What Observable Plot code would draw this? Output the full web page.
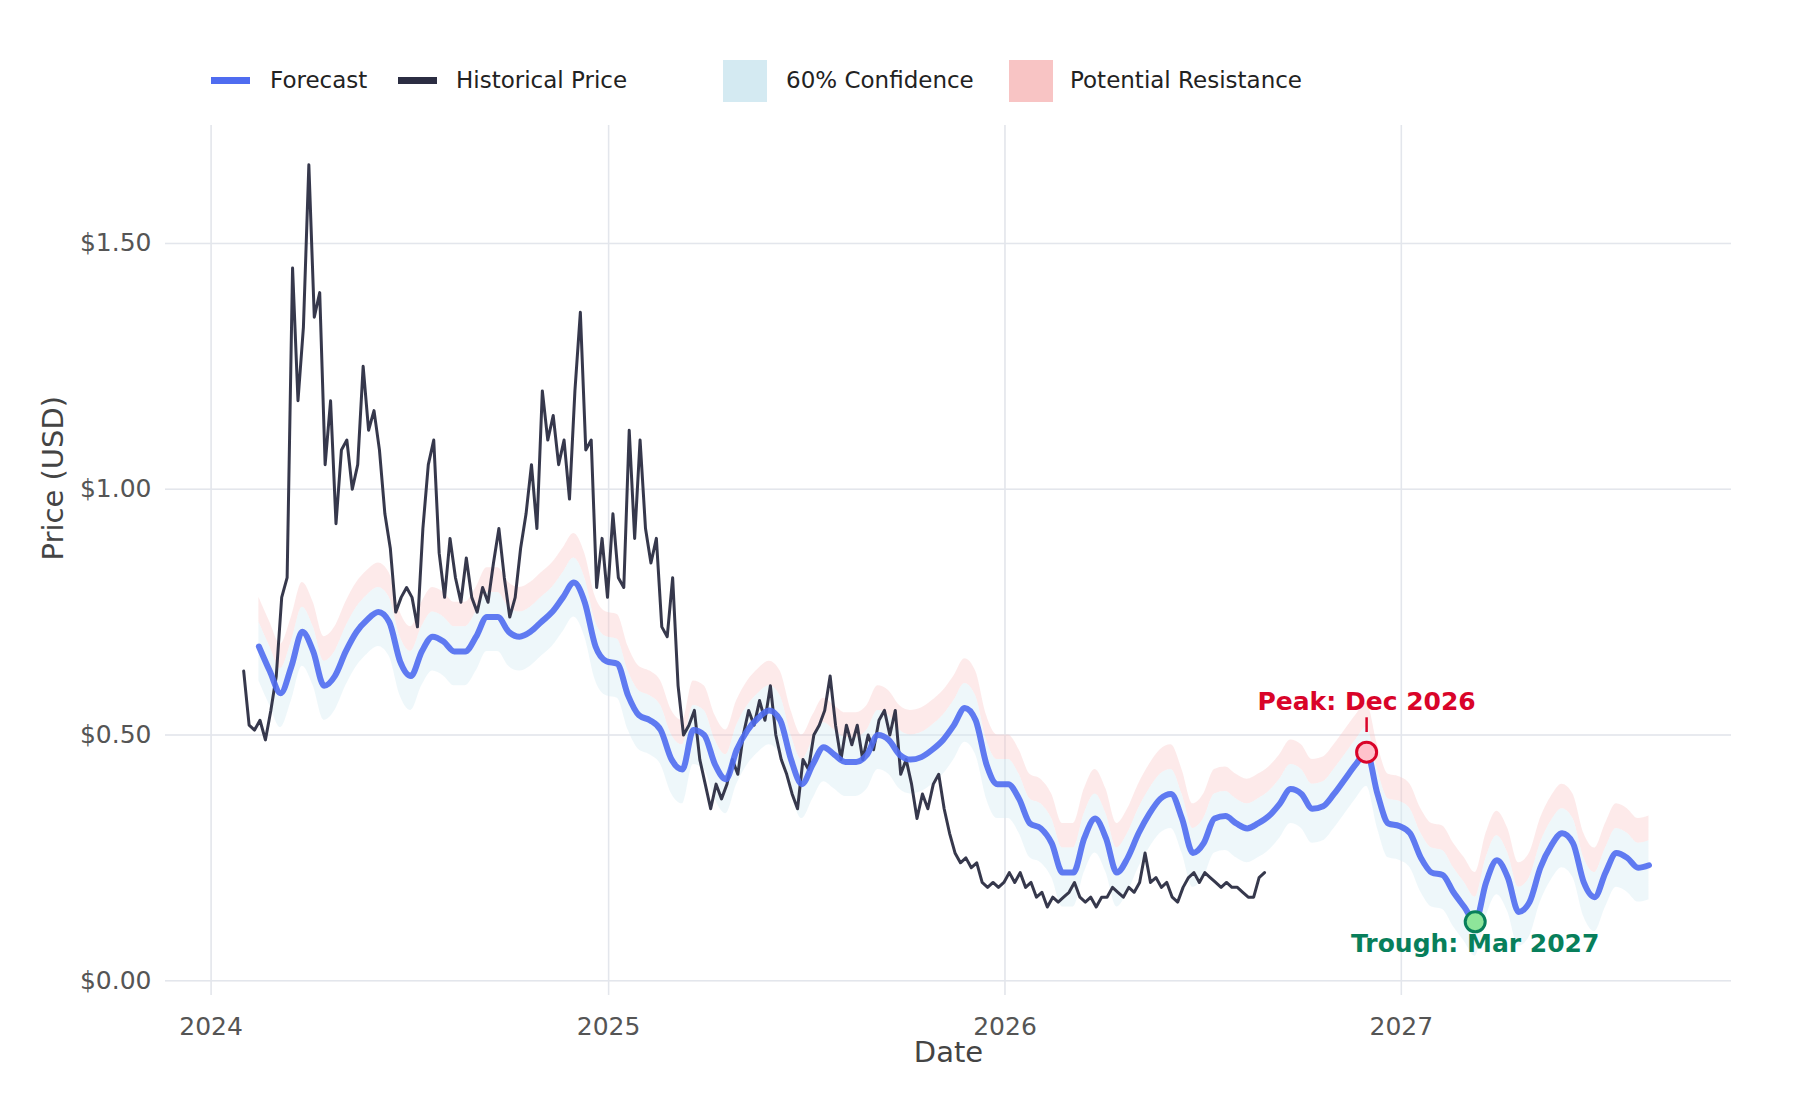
<!DOCTYPE html>
<html><head><meta charset="utf-8">
<script src="https://cdn.jsdelivr.net/npm/d3@7"></script>
<script src="https://cdn.jsdelivr.net/npm/@observablehq/plot@0.6"></script>
<style>
body{margin:0;background:#fff;font-family:"DejaVu Sans",sans-serif;}
#wrap{position:relative;width:1800px;height:1100px;}
.leg{position:absolute;font-size:23px;color:#222;}
.sw{position:absolute;}
</style></head><body>
<div id="wrap">
  <div class="sw" style="left:211px;top:77px;width:39px;height:7px;background:#4f6cf0"></div>
  <div class="leg" style="left:270px;top:67px">Forecast</div>
  <div class="sw" style="left:398px;top:77px;width:39px;height:7px;background:#2b2d42"></div>
  <div class="leg" style="left:456px;top:67px">Historical Price</div>
  <div class="sw" style="left:723px;top:60px;width:44px;height:42px;background:#d4eaf2"></div>
  <div class="leg" style="left:786px;top:67px">60% Confidence</div>
  <div class="sw" style="left:1009px;top:60px;width:44px;height:42px;background:#f8c4c4"></div>
  <div class="leg" style="left:1070px;top:67px">Potential Resistance</div>
  <div id="chart" style="position:absolute;left:0;top:0"></div>
</div>
<script>
const histStart = "2024-01-31", histStepDays = 5;
const histValues = [0.63,0.52,0.51,0.53,0.49,0.55,0.62,0.78,0.82,1.45,1.18,1.33,1.66,1.35,1.40,1.05,1.18,0.93,1.08,1.10,
1.00,1.05,1.25,1.12,1.16,1.08,0.95,0.88,0.75,0.78,0.80,0.78,0.72,0.92,1.05,1.10,0.87,0.78,0.90,0.82,
0.77,0.86,0.78,0.75,0.80,0.77,0.85,0.92,0.82,0.74,0.78,0.88,0.95,1.05,0.92,1.20,1.10,1.15,1.05,1.10,
0.98,1.20,1.36,1.08,1.10,0.80,0.90,0.78,0.95,0.82,0.80,1.12,0.90,1.10,0.92,0.85,0.90,0.72,0.70,0.82,
0.60,0.50,0.52,0.55,0.45,0.40,0.35,0.40,0.37,0.40,0.45,0.42,0.50,0.55,0.52,0.57,0.53,0.60,0.50,0.45,
0.42,0.38,0.35,0.45,0.43,0.50,0.52,0.55,0.62,0.52,0.45,0.52,0.48,0.52,0.45,0.50,0.47,0.53,0.55,0.50,
0.55,0.42,0.45,0.40,0.33,0.38,0.35,0.40,0.42,0.35,0.30,0.26,0.24,0.25,0.23,0.24,0.20,0.19,0.20,0.19,
0.20,0.22,0.20,0.22,0.19,0.20,0.17,0.18,0.15,0.17,0.16,0.17,0.18,0.20,0.17,0.16,0.17,0.15,0.17,0.17,
0.19,0.18,0.17,0.19,0.18,0.20,0.26,0.20,0.21,0.19,0.20,0.17,0.16,0.19,0.21,0.22,0.20,0.22,0.21,0.20,
0.19,0.20,0.19,0.19,0.18,0.17,0.17,0.21,0.22];
const fcStart = "2024-02-14", fcStepDays = 10;
const fcValues = [0.68,0.63,0.585,0.64,0.71,0.67,0.60,0.62,0.67,0.71,0.735,0.75,0.73,0.65,0.62,0.67,0.70,0.69,0.67,0.67,
0.70,0.74,0.74,0.71,0.70,0.71,0.73,0.75,0.78,0.81,0.77,0.68,0.65,0.645,0.58,0.54,0.53,0.51,0.45,0.43,
0.51,0.50,0.44,0.41,0.47,0.51,0.535,0.55,0.53,0.45,0.40,0.44,0.475,0.46,0.445,0.445,0.46,0.50,0.49,0.46,
0.45,0.455,0.47,0.49,0.52,0.555,0.53,0.44,0.40,0.40,0.37,0.32,0.31,0.28,0.22,0.22,0.29,0.33,0.29,0.22,
0.25,0.30,0.34,0.37,0.38,0.33,0.26,0.28,0.33,0.335,0.32,0.31,0.32,0.335,0.36,0.39,0.38,0.35,0.355,0.38,
0.41,0.44,0.465,0.38,0.32,0.315,0.30,0.25,0.22,0.215,0.18,0.15,0.12,0.20,0.245,0.21,0.14,0.16,0.23,0.275,
0.30,0.28,0.20,0.17,0.22,0.26,0.25,0.23,0.235];
const confLow = 0.07, confHigh = 0.05, resistHigh = 0.10;
const yTicks = [0, 0.5, 1.0, 1.5];
const xTicks = ["2024-01-01","2025-01-01","2026-01-01","2027-01-01"];
const peakLabel = "Peak: Dec 2026", troughLabel = "Trough: Mar 2027";

const addDays = (s, n) => { const d = new Date(s + "T00:00:00Z"); d.setUTCDate(d.getUTCDate() + n); return d; };
const hist = histValues.map((v, i) => ({date: addDays(histStart, i * histStepDays), v}));
const fc = fcValues.map((v, i) => ({date: addDays(fcStart, i * fcStepDays), v,
  lo: v - confLow, hi: v + confHigh, rhi: v + resistHigh}));
const late = fc.filter(d => d.date >= new Date("2026-09-01"));
const peak = late.reduce((a, b) => b.v > a.v ? b : a);
const trough = late.reduce((a, b) => b.v < a.v ? b : a);
const red = "#d90429", green = "#087f5b";

const chart = Plot.plot({
  width: 1800, height: 1100,
  marginLeft: 165, marginRight: 69, marginTop: 125, marginBottom: 105,
  style: {fontFamily: "DejaVu Sans, sans-serif", fontSize: "25px", color: "#555"},
  x: {type: "utc", domain: [new Date("2023-11-20"), new Date("2027-11-01")],
      ticks: xTicks.map(d => new Date(d)), tickFormat: d3.utcFormat("%Y"),
      tickSize: 0, tickPadding: 22, label: null, grid: true},
  y: {domain: [-0.03, 1.74], ticks: yTicks, tickFormat: d => "$" + d.toFixed(2),
      tickSize: 0, tickPadding: 14, label: null, grid: true},
  marks: [
    Plot.gridX(xTicks.map(d => new Date(d)), {stroke: "#e3e6ec", strokeOpacity: 1, strokeWidth: 1.5}),
    Plot.gridY(yTicks, {stroke: "#e3e6ec", strokeOpacity: 1, strokeWidth: 1.5}),
    Plot.areaY(fc, {x: "date", y1: "hi", y2: "rhi", fill: "#f8c4c4", fillOpacity: 0.35, curve: "monotone-x"}),
    Plot.areaY(fc, {x: "date", y1: "lo", y2: "hi", fill: "#d4eaf2", fillOpacity: 0.4, curve: "monotone-x"}),
    Plot.line(hist, {x: "date", y: "v", stroke: "#2b2d42", strokeWidth: 3, strokeOpacity: 0.95}),
    Plot.line(fc, {x: "date", y: "v", stroke: "#4f6cf0", strokeWidth: 6, strokeOpacity: 0.9, curve: "monotone-x"}),
    Plot.ruleX([peak], {x: "date", y1: d => d.v + 0.04, y2: d => d.v + 0.07, stroke: red, strokeWidth: 2.5}),
    Plot.dot([peak], {x: "date", y: "v", r: 10, fill: "#ffc2cc", stroke: red, strokeWidth: 3}),
    Plot.text([peak], {x: "date", y: "v", dy: -50, text: () => peakLabel, fill: red, fontWeight: "bold", fontSize: 25}),
    Plot.dot([trough], {x: "date", y: "v", r: 10, fill: "#8ee59a", stroke: green, strokeWidth: 3}),
    Plot.text([trough], {x: "date", y: "v", dy: 22, text: () => troughLabel, fill: green, fontWeight: "bold", fontSize: 25}),
    Plot.text(["Date"], {frameAnchor: "bottom", dy: 66, text: d => d, fill: "#444", fontSize: 29}),
    Plot.text(["Price (USD)"], {frameAnchor: "left", dx: -112, rotate: -90, text: d => d, fill: "#444", fontSize: 29})
  ]
});
document.getElementById("chart").appendChild(chart);
</script>
</body></html>
